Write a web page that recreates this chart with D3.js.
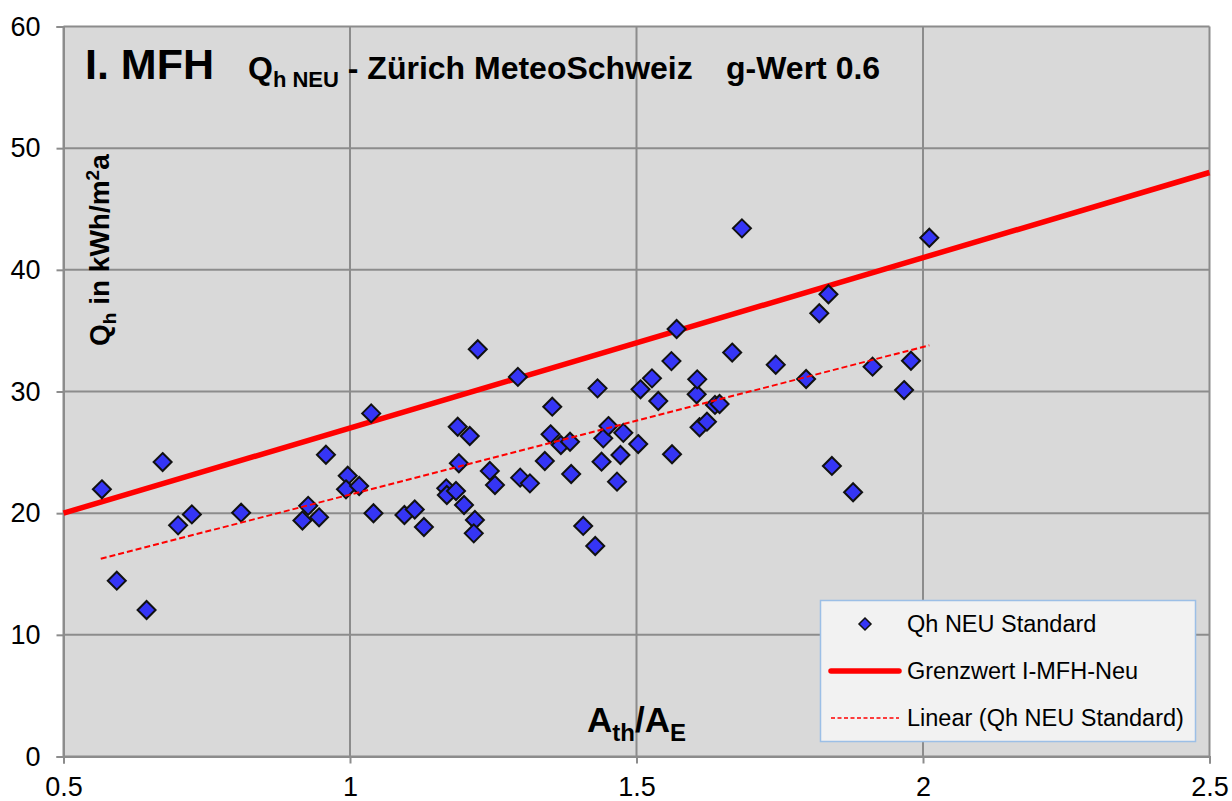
<!DOCTYPE html>
<html>
<head>
<meta charset="utf-8">
<script src="https://cdn.jsdelivr.net/npm/d3@7"></script>
<style>
  html, body { margin: 0; padding: 0; background: #fff; }
  svg { display: block; font-family: "Liberation Sans", Arial, sans-serif; }
</style>
</head>
<body>
<svg id="chart" width="1232" height="801"></svg>
<script>
// ---- data ----
const ratioAthAE = [0.567, 0.673, 0.700, 0.724, 0.593, 0.645, 0.810, 0.917, 0.927, 0.946,
  0.958, 0.996, 0.993, 1.016, 1.041, 1.037, 1.095, 1.113, 1.129, 1.168,
  1.169, 1.185, 1.199, 1.218, 1.216, 1.188, 1.209, 1.190, 1.223, 1.244,
  1.253, 1.293, 1.297, 1.314, 1.340, 1.350, 1.353, 1.368, 1.384, 1.386,
  1.407, 1.428, 1.432, 1.439, 1.442, 1.451, 1.466, 1.472, 1.477, 1.503,
  1.507, 1.527, 1.538, 1.561, 1.562, 1.570, 1.605, 1.606, 1.610, 1.623,
  1.637, 1.645, 1.667, 1.684, 1.743, 1.796, 1.819, 1.835, 1.841, 1.878,
  1.912, 1.967, 1.979, 2.011];
const qhNeuStandard = [21.96, 24.2, 19.0, 19.9, 14.45, 12.04, 20.04, 19.4, 20.6, 19.66,
  24.8, 23.08, 21.96, 22.23, 19.99, 28.2, 19.85, 20.3, 18.86, 22.04,
  21.49, 21.82, 20.67, 19.44, 18.34, 27.1, 26.34, 24.1, 33.47, 23.47,
  22.31, 31.2, 22.92, 22.45, 24.29, 26.48, 28.75, 25.6, 25.87, 23.22,
  18.95, 17.3, 30.26, 24.23, 26.15, 27.16, 22.59, 24.78, 26.6, 25.68,
  30.18, 31.08, 29.22, 32.5, 24.84, 35.14, 29.77, 31.0, 27.06, 27.52,
  28.9, 28.97, 33.2, 43.41, 32.2, 31.03, 36.43, 37.99, 23.88, 21.72,
  32.04, 30.12, 32.53, 42.64];
const grenzwertX = [0.5, 2.5];
const grenzwertY = [20, 48];
const trendX = [0.565, 2.011];
const trendY = [16.25, 33.8];
const xTicks = [0.5, 1, 1.5, 2, 2.5];
const yTicks = [0, 10, 20, 30, 40, 50, 60];
const legendLabels = ["Qh NEU Standard", "Grenzwert I-MFH-Neu", "Linear (Qh NEU Standard)"];

// ---- layout ----
const svg = d3.select("#chart");
const pL = 63.5, pR = 1209.5, pT = 26.5, pB = 756.5;
const x = d3.scaleLinear().domain([0.5, 2.5]).range([pL, pR]);
const y = d3.scaleLinear().domain([0, 60]).range([pB, pT]);
const gridColor = "#8c8c8c";

svg.append("rect").attr("x", pL).attr("y", pT)
  .attr("width", pR - pL).attr("height", pB - pT).attr("fill", "#d9d9d9");

// grid
svg.append("g").selectAll("line").data(yTicks).join("line")
  .attr("x1", pL).attr("x2", pR).attr("y1", d => y(d)).attr("y2", d => y(d))
  .attr("stroke", gridColor).attr("stroke-width", 2);
svg.append("g").selectAll("line").data(xTicks).join("line")
  .attr("y1", pT).attr("y2", pB).attr("x1", d => x(d)).attr("x2", d => x(d))
  .attr("stroke", gridColor).attr("stroke-width", 2);

// axes
const yAxis = d3.axisLeft(y).tickValues(yTicks).tickSize(7).tickPadding(16).tickFormat(d3.format("d"));
const gy = svg.append("g").attr("transform", `translate(${pL},0)`).call(yAxis);
const xAxis = d3.axisBottom(x).tickValues(xTicks).tickSize(7).tickPadding(13).tickFormat(d => String(d));
const gx = svg.append("g").attr("transform", `translate(0,${pB})`).call(xAxis);
[gx, gy].forEach(g => {
  g.select(".domain").attr("stroke", gridColor).attr("stroke-width", 2);
  g.selectAll(".tick line").attr("stroke", gridColor).attr("stroke-width", 2);
  g.selectAll(".tick text").attr("fill", "#000").style("font-size", "27px")
    .style("font-family", "'Liberation Sans', Arial, sans-serif");
});

// Grenzwert line (below markers)
const lineGen = d3.line().x(d => x(d[0])).y(d => y(d[1]));
svg.append("path").datum(d3.zip(grenzwertX, grenzwertY)).attr("d", lineGen)
  .attr("stroke", "#ff0000").attr("stroke-width", 5.5).attr("fill", "none");

// markers
const diamond = s => `M0,${-s}L${s},0L0,${s}L${-s},0Z`;
svg.append("g").selectAll("path").data(d3.zip(ratioAthAE, qhNeuStandard)).join("path")
  .attr("transform", d => `translate(${x(d[0])},${y(d[1])})`)
  .attr("d", diamond(9))
  .attr("fill", "#3535f5").attr("stroke", "#111").attr("stroke-width", 2);

// trend line
svg.append("path").datum(d3.zip(trendX, trendY)).attr("d", lineGen)
  .attr("stroke", "#ff0000").attr("stroke-width", 2).attr("stroke-dasharray", "6,3").attr("fill", "none");

// titles
svg.append("text").attr("x", 85).attr("y", 79).attr("font-weight", "bold")
  .attr("font-size", 43).text("I. MFH");
const t2 = svg.append("text").attr("x", 248).attr("y", 79).attr("font-weight", "bold").attr("font-size", 32);
t2.append("tspan").text("Q");
t2.append("tspan").attr("font-size", 22).attr("dy", 8).text("h NEU");
t2.append("tspan").attr("dy", -8).text(" - Zürich MeteoSchweiz");
t2.append("tspan").attr("x", 726).text("g-Wert 0.6");

// y title
const yt = svg.append("text").attr("transform", "translate(109,346) rotate(-90)")
  .attr("font-weight", "bold").attr("font-size", 28);
yt.append("tspan").text("Q");
yt.append("tspan").attr("font-size", 19).attr("dy", 7).text("h");
yt.append("tspan").attr("dy", -7).text(" in kWh/m");
yt.append("tspan").attr("font-size", 19).attr("dy", -10).text("2");
yt.append("tspan").attr("dy", 10).text("a");

// x title
const xt = svg.append("text").attr("x", 587).attr("y", 732).attr("font-weight", "bold").attr("font-size", 35);
xt.append("tspan").text("A");
xt.append("tspan").attr("font-size", 24).attr("dy", 9).text("th");
xt.append("tspan").attr("dy", -9).text("/A");
xt.append("tspan").attr("font-size", 24).attr("dy", 9).text("E");

// legend
const lg = svg.append("g");
lg.append("rect").attr("x", 820.5).attr("y", 600.5).attr("width", 375).attr("height", 141)
  .attr("fill", "#f2f2f2").attr("stroke", "#9cbfe6").attr("stroke-width", 1.5);
const rowsY = [624, 671, 718];
lg.append("path").attr("transform", `translate(865,${rowsY[0]})`).attr("d", diamond(6))
  .attr("fill", "#3535f5").attr("stroke", "#111").attr("stroke-width", 1.5);
lg.append("line").attr("x1", 831).attr("x2", 899).attr("y1", rowsY[1]).attr("y2", rowsY[1])
  .attr("stroke", "#ff0000").attr("stroke-width", 5.5).attr("stroke-linecap", "round");
lg.append("line").attr("x1", 831).attr("x2", 899).attr("y1", rowsY[2]).attr("y2", rowsY[2])
  .attr("stroke", "#ff0000").attr("stroke-width", 1.5).attr("stroke-dasharray", "4,2.5");
lg.selectAll("text.lt").data(legendLabels).join("text").attr("class", "lt")
  .attr("x", 907).attr("y", (d, i) => rowsY[i]).attr("dy", "0.35em")
  .attr("font-size", 23.5).attr("fill", "#000").text(d => d);
</script>
</body>
</html>
